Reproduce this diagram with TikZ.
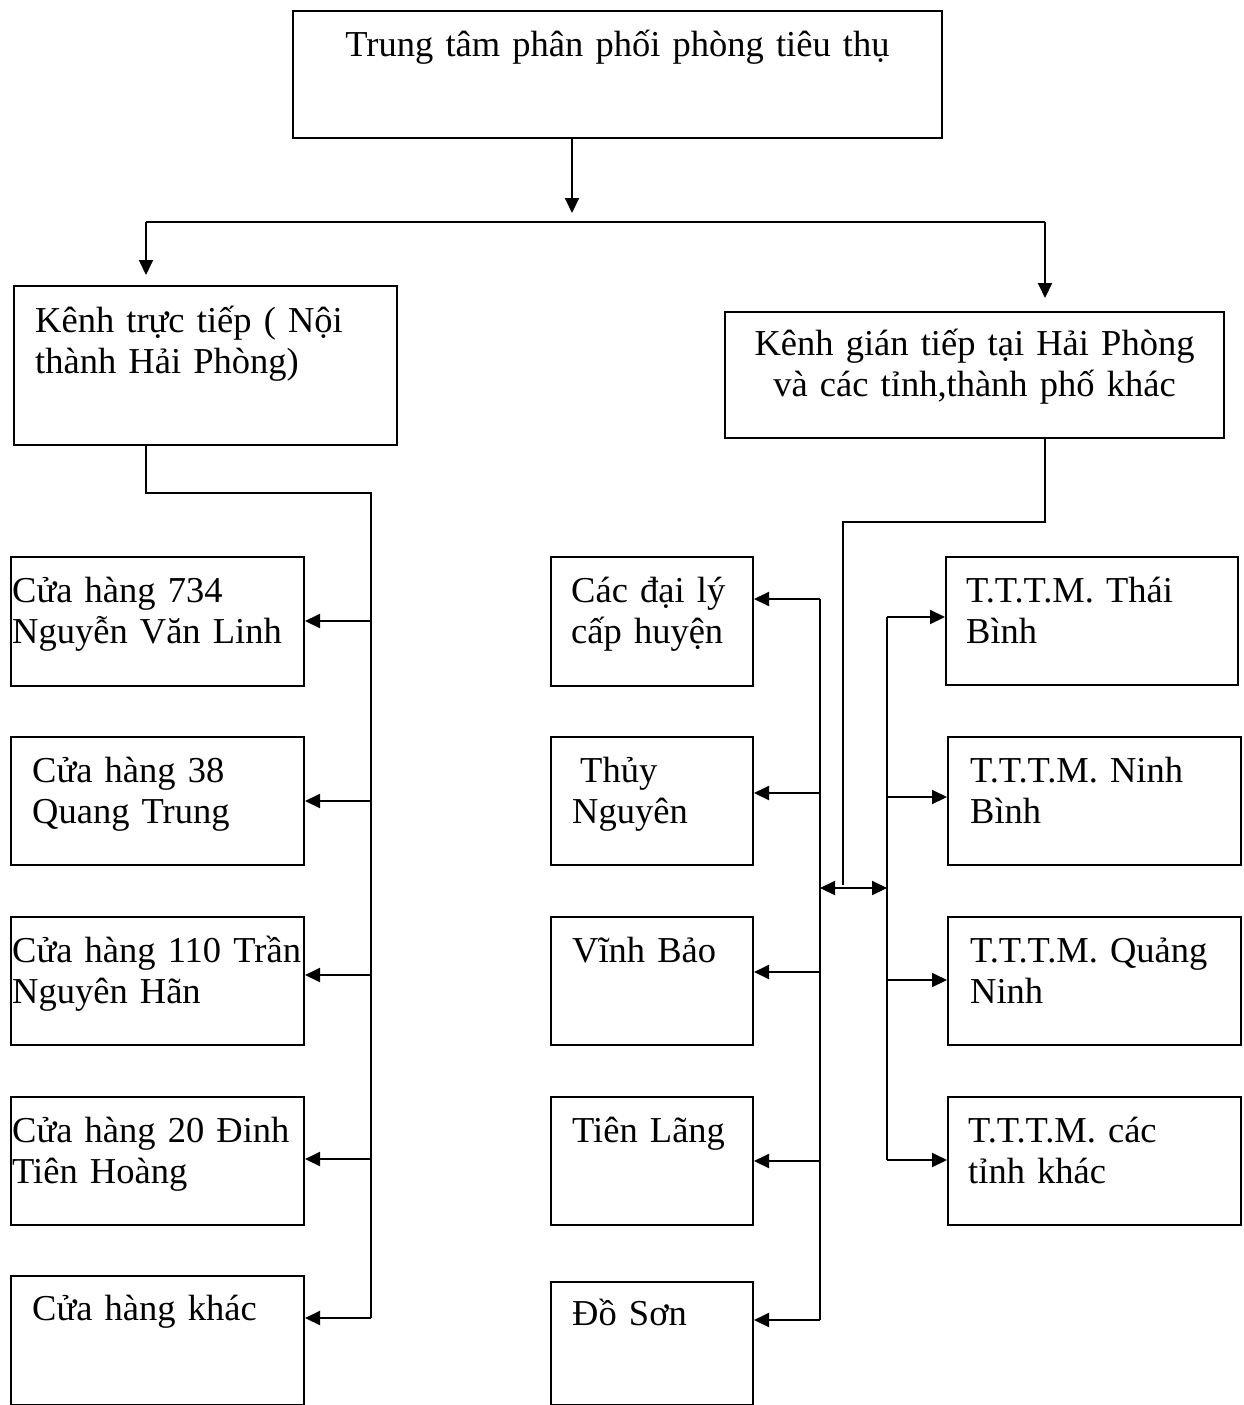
\documentclass[tikz,border=0pt]{standalone}
\usepackage{fontspec}
\setmainfont{Liberation Serif}
\usetikzlibrary{arrows.meta}

\begin{document}
\begin{tikzpicture}[
  x=1pt, y=-1pt,
  box/.style={draw, line width=2pt, anchor=north west, inner sep=0pt},
  txt/.style={anchor=base west, align=left, inner sep=0pt, text width=400pt,
               font=\fontsize{36.5}{41.5}\selectfont},
  ctxt/.style={anchor=base, align=center, inner sep=0pt,
               font=\fontsize{36.5}{41.5}\selectfont},
  ln/.style={line width=2pt},
  arr/.style={line width=2pt, -{Triangle[length=15pt,width=14pt]}},
  dbl/.style={line width=2pt, {Triangle[length=15pt,width=14pt]}-{Triangle[length=15pt,width=14pt]}}]
  \useasboundingbox (0,0) rectangle (1243,1405);

  % upper level
  \node[box, minimum width=649pt, minimum height=127pt] (top) at (292,10) {};
  \node[ctxt, text width=640pt] (toptx) at ([yshift=-47pt]top.north) {Trung tâm phân phối phòng tiêu thụ};
  \node[box, minimum width=383pt, minimum height=159pt] (kt) at (13,285) {};
  \node[txt] (kttx) at (35,332) {Kênh trực tiếp ( Nội\\thành Hải Phòng)};
  \node[box, minimum width=499pt, minimum height=126pt] (kg) at (724,311) {};
  \node[ctxt, text width=490pt] (kgtx) at ([yshift=-44pt]kg.north) {Kênh gián tiếp tại Hải Phòng\\và các tỉnh,thành phố khác};

  % left column
  \node[box, minimum width=293pt, minimum height=129pt] (s1) at (10,556) {};
  \node[box, minimum width=293pt, minimum height=128pt] (s2) at (10,736) {};
  \node[box, minimum width=293pt, minimum height=128pt] (s3) at (10,916) {};
  \node[box, minimum width=293pt, minimum height=128pt] (s4) at (10,1096) {};
  \node[box, minimum width=293pt, minimum height=129pt] (s5) at (10,1275) {};
  \node[txt] (s1tx) at (12,602) {Cửa hàng 734\\Nguyễn Văn Linh};
  \node[txt] (s2tx) at (32,782) {Cửa hàng 38\\Quang Trung};
  \node[txt] (s3tx) at (12,962) {Cửa hàng 110 Trần\\Nguyên Hãn};
  \node[txt] (s4tx) at (12,1142) {Cửa hàng 20 Đinh\\Tiên Hoàng};
  \node[txt] (s5tx) at (32,1320) {Cửa hàng khác};

  % middle column
  \node[box, minimum width=202pt, minimum height=129pt] (m1) at (550,556) {};
  \node[box, minimum width=202pt, minimum height=128pt] (m2) at (550,736) {};
  \node[box, minimum width=202pt, minimum height=128pt] (m3) at (550,916) {};
  \node[box, minimum width=202pt, minimum height=128pt] (m4) at (550,1096) {};
  \node[box, minimum width=202pt, minimum height=123pt] (m5) at (550,1281) {};
  \node[txt] (m1tx) at (571,602) {Các đại lý\\cấp huyện};
  \node[txt] (m2tx) at (572,782) {\hspace{8pt}Thủy\\Nguyên};
  \node[txt] (m3tx) at (572,962) {Vĩnh Bảo};
  \node[txt] (m4tx) at (572,1142) {Tiên Lãng};
  \node[txt] (m5tx) at (572,1325) {Đồ Sơn};

  % right column
  \node[box, minimum width=292pt, minimum height=128pt] (r1) at (945,556) {};
  \node[box, minimum width=293pt, minimum height=128pt] (r2) at (947,736) {};
  \node[box, minimum width=293pt, minimum height=128pt] (r3) at (947,916) {};
  \node[box, minimum width=293pt, minimum height=128pt] (r4) at (947,1096) {};
  \node[txt] (r1tx) at (966,602) {T.T.T.M. Thái\\Bình};
  \node[txt] (r2tx) at (970,782) {T.T.T.M. Ninh\\Bình};
  \node[txt] (r3tx) at (970,962) {T.T.T.M. Quảng\\Ninh};
  \node[txt] (r4tx) at (968,1142) {T.T.T.M. các\\tỉnh khác};

  % bus points
  \coordinate (j) at (572,222);
  \coordinate (jl) at (146,222);
  \coordinate (jr) at (1045,222);
  \coordinate (lb) at (371,493);
  \coordinate (lb1) at (371,621);
  \coordinate (lb2) at (371,801);
  \coordinate (lb3) at (371,975);
  \coordinate (lb4) at (371,1159);
  \coordinate (lb5) at (371,1318);
  \coordinate (mb1) at (820,599);
  \coordinate (mb2) at (820,793);
  \coordinate (mb3) at (820,972);
  \coordinate (mb4) at (820,1161);
  \coordinate (mb5) at (820,1320);
  \coordinate (rb1) at (887,617);
  \coordinate (rb2) at (887,797);
  \coordinate (rb3) at (887,980);
  \coordinate (rb4) at (887,1160);
  \coordinate (fa) at (843,522);
  \coordinate (fb) at (843,885);
  \coordinate (da) at (820,888);
  \coordinate (db) at (887,888);

  % connectors
  \draw[arr] (top.south -| j) -- ([yshift=9pt]j);
  \draw[ln] (jl) -- (jr);
  \draw[arr] (jl) -- ([yshift=10pt]kt.north -| jl);
  \draw[arr] (jr) -- ([yshift=13pt]kg.north -| jr);

  \draw[ln] (kt.south -| jl) |- (lb) -- (lb5);
  \draw[arr] (lb1) -- (lb1 -| s1.east);
  \draw[arr] (lb2) -- (lb2 -| s2.east);
  \draw[arr] (lb3) -- (lb3 -| s3.east);
  \draw[arr] (lb4) -- (lb4 -| s4.east);
  \draw[arr] (lb5) -- (lb5 -| s5.east);

  \draw[ln] (kg.south -| jr) |- (fa) -- (fb);
  \draw[dbl] (da) -- (db);

  \draw[ln] (mb1) -- (mb5);
  \draw[arr] (mb1) -- (mb1 -| m1.east);
  \draw[arr] (mb2) -- (mb2 -| m2.east);
  \draw[arr] (mb3) -- (mb3 -| m3.east);
  \draw[arr] (mb4) -- (mb4 -| m4.east);
  \draw[arr] (mb5) -- (mb5 -| m5.east);

  \draw[ln] (rb1) -- (rb4);
  \draw[arr] (rb1) -- (rb1 -| r1.west);
  \draw[arr] (rb2) -- (rb2 -| r2.west);
  \draw[arr] (rb3) -- (rb3 -| r3.west);
  \draw[arr] (rb4) -- (rb4 -| r4.west);
\end{tikzpicture}
\end{document}
